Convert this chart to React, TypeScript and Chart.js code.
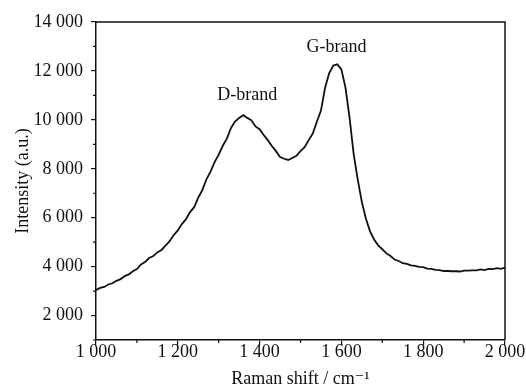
import React, { useEffect, useRef } from "react";
import { Chart, registerables } from "chart.js";
Chart.register(...registerables);

const ramanShift = [
  1000, 1010, 1020, 1030, 1040, 1050, 1060, 1070, 1080, 1090,
  1100, 1110, 1120, 1130, 1140, 1150, 1160, 1170, 1180, 1190,
  1200, 1210, 1220, 1230, 1240, 1250, 1260, 1270, 1280, 1290,
  1300, 1310, 1320, 1330, 1340, 1350, 1360, 1370, 1380, 1390,
  1400, 1410, 1420, 1430, 1440, 1450, 1460, 1470, 1480, 1490,
  1500, 1510, 1520, 1530, 1540, 1550, 1560, 1570, 1580, 1590,
  1600, 1610, 1620, 1630, 1640, 1650, 1660, 1670, 1680, 1690,
  1700, 1710, 1720, 1730, 1740, 1750, 1760, 1770, 1780, 1790,
  1800, 1810, 1820, 1830, 1840, 1850, 1860, 1870, 1880, 1890,
  1900, 1910, 1920, 1930, 1940, 1950, 1960, 1970, 1980, 1990,
  2000,
];

const intensity = [
  3040, 3130, 3170, 3270, 3320, 3420, 3490, 3610, 3680, 3810,
  3900, 4090, 4190, 4350, 4430, 4580, 4680, 4860, 5040, 5290,
  5480, 5740, 5940, 6230, 6430, 6820, 7130, 7570, 7880, 8270,
  8580, 8940, 9230, 9670, 9930, 10080, 10190, 10080, 9980, 9730,
  9620, 9380, 9170, 8930, 8720, 8480, 8410, 8360, 8440, 8530,
  8720, 8880, 9170, 9440, 9920, 10380, 11300, 11900, 12220, 12270,
  12060, 11320, 10080, 8600, 7560, 6640, 5960, 5440, 5110, 4870,
  4710, 4540, 4430, 4290, 4230, 4140, 4110, 4050, 4030, 3990,
  3980, 3920, 3910, 3870, 3860, 3820, 3820, 3810, 3810, 3800,
  3840, 3840, 3850, 3850, 3890, 3860, 3910, 3900, 3940, 3910,
  3960,
];

const xMin = 1000;
const xMax = 2000;
const xStep = 200;
const xMinorTicks = [1100, 1300, 1500, 1700, 1900];
const yMin = 1000;
const yMax = 14000;
const yStep = 2000;
const yFirstLabel = 2000;
const yMinorTicks = [1000, 3000, 5000, 7000, 9000, 11000, 13000];

const peakLabels = ["D-brand", "G-brand"];
const peakLabelX = [1370, 1588];
const peakLabelY = [11000, 12980];

const xTitle = "Raman shift / cm\u207B\u00B9";
const yTitle = "Intensity (a.u.)";

const FONT = "'Liberation Serif', 'DejaVu Serif', serif";
const FS = 18;

function fmt(v: number): string {
  const s = String(Math.round(v));
  return s.replace(/\B(?=(\d{3})+(?!\d))/g, " ");
}

const framePlugin = {
  id: "frameAndMinor",
  afterDraw(chart: any) {
    const { ctx, chartArea } = chart;
    const xs = chart.scales.x;
    const ys = chart.scales.y;
    ctx.save();
    ctx.strokeStyle = "#111";
    ctx.lineWidth = 1.5;
    ctx.beginPath();
    ctx.moveTo(chartArea.left, chartArea.top);
    ctx.lineTo(chartArea.right, chartArea.top);
    ctx.lineTo(chartArea.right, chartArea.bottom);
    ctx.stroke();
    ctx.lineWidth = 1.2;
    ctx.beginPath();
    for (const v of xMinorTicks) {
      const px = xs.getPixelForValue(v);
      ctx.moveTo(px, chartArea.bottom);
      ctx.lineTo(px, chartArea.bottom + 3);
    }
    for (const v of yMinorTicks) {
      const py = ys.getPixelForValue(v);
      ctx.moveTo(chartArea.left, py);
      ctx.lineTo(chartArea.left - 3, py);
    }
    ctx.stroke();
    ctx.fillStyle = "#111";
    ctx.font = FS + "px " + FONT;
    ctx.textAlign = "center";
    ctx.textBaseline = "middle";
    for (let i = 0; i < peakLabels.length; i++) {
      ctx.fillText(
        peakLabels[i],
        xs.getPixelForValue(peakLabelX[i]),
        ys.getPixelForValue(peakLabelY[i])
      );
    }
    ctx.restore();
  },
};

export default function App() {
  const ref = useRef<HTMLCanvasElement | null>(null);
  useEffect(() => {
    if (!ref.current) return;
    const points = ramanShift.map((x, i) => ({ x, y: intensity[i] }));
    const chart = new Chart(ref.current, {
      type: "line",
      data: {
        datasets: [
          {
            data: points,
            borderColor: "#111",
            borderWidth: 1.8,
            pointRadius: 0,
            tension: 0,
            fill: false,
          },
        ],
      },
      options: {
        animation: false,
        responsive: false,
        maintainAspectRatio: false,
        layout: { padding: { top: 22, right: 21, left: 0, bottom: 0 } },
        plugins: {
          legend: { display: false },
          tooltip: { enabled: false },
        },
        scales: {
          x: {
            type: "linear",
            min: xMin,
            max: xMax,
            afterFit: (s: any) => {
              s.height = 48;
            },
            ticks: {
              stepSize: xStep,
              color: "#111",
              font: { family: FONT, size: FS, lineHeight: 1 },
              padding: -2,
              maxRotation: 0,
              callback: (v: any) => fmt(Number(v)),
            },
            grid: {
              display: true,
              drawOnChartArea: false,
              drawTicks: true,
              tickLength: 5,
              color: "#111",
              lineWidth: 1.2,
            },
            border: { display: true, color: "#111", width: 1.5 },
            title: {
              display: true,
              text: xTitle,
              color: "#111",
              font: { family: FONT, size: FS, lineHeight: 1 },
              padding: { top: 0, bottom: 0 },
            },
          },
          y: {
            type: "linear",
            min: yMin,
            max: yMax,
            afterFit: (s: any) => {
              s.width = 96;
            },
            afterBuildTicks: (s: any) => {
              const t = [];
              for (let v = yFirstLabel; v <= yMax; v += yStep) t.push({ value: v });
              s.ticks = t;
            },
            ticks: {
              color: "#111",
              font: { family: FONT, size: FS },
              padding: 8,
              callback: (v: any) => fmt(Number(v)),
            },
            grid: {
              display: true,
              drawOnChartArea: false,
              drawTicks: true,
              tickLength: 5,
              color: "#111",
              lineWidth: 1.2,
            },
            border: { display: true, color: "#111", width: 1.5 },
            title: {
              display: true,
              text: yTitle,
              color: "#111",
              font: { family: FONT, size: FS, lineHeight: 1 },
              padding: { top: 14, bottom: 0 },
            },
          },
        },
      },
      plugins: [framePlugin],
    });
    return () => chart.destroy();
  }, []);
  return (
    <div style={{ position: "fixed", left: 0, top: 0, width: 526, height: 388, background: "#fff" }}>
      <canvas ref={ref} width={526} height={388} style={{ width: 526, height: 388 }} />
    </div>
  );
}
